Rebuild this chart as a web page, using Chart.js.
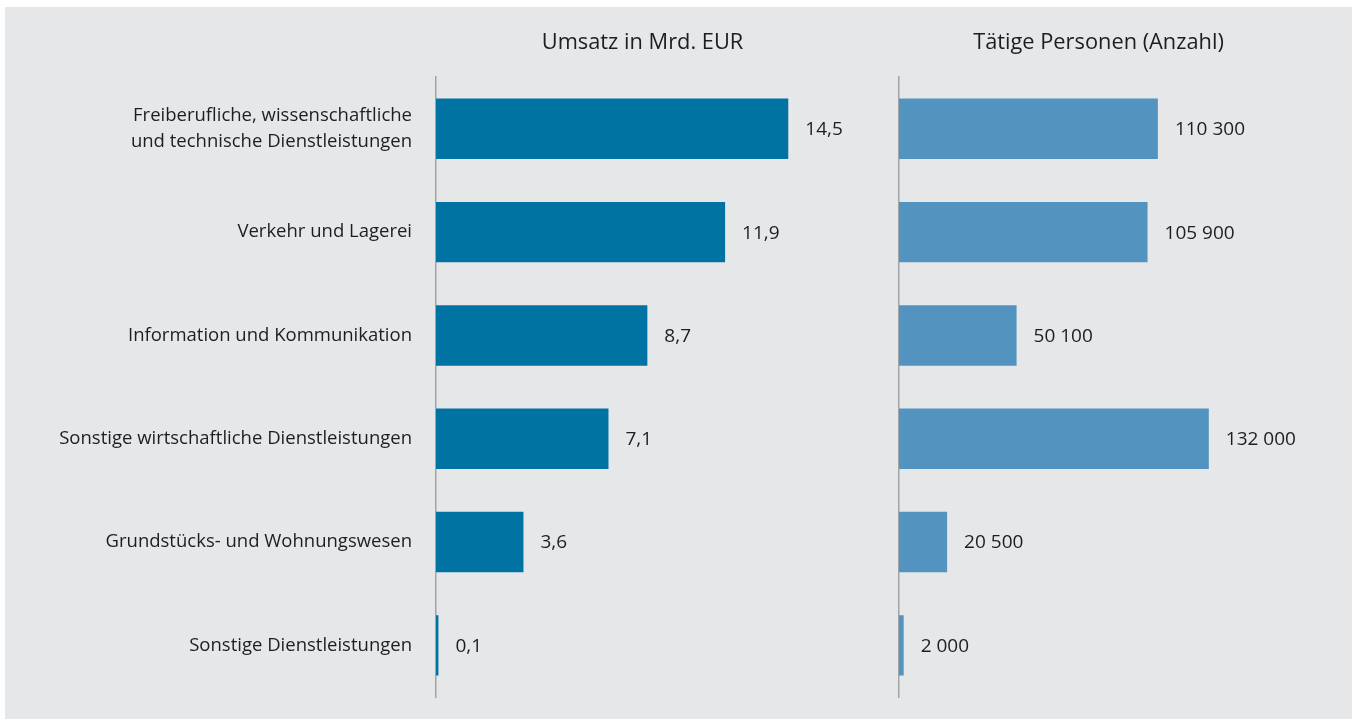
<!DOCTYPE html>
<html lang="de">
<head>
<meta charset="utf-8">
<title>Umsatz und tätige Personen</title>
<script src="https://cdn.jsdelivr.net/npm/chart.js@4/dist/chart.umd.min.js"></script>
<style>
  body { margin: 0; background: #fff; }
  #panel { position: absolute; left: 5px; top: 7px; width: 1347px; height: 712px; background: #e6e7e9; }
  .box { position: absolute; top: 7px; height: 712px; }
  #box-umsatz { left: 5px; width: 844px; }
  #box-personen { left: 880px; width: 418px; }
</style>
</head>
<body>
<div id="panel"></div>
<div class="box" id="box-umsatz"><canvas id="umsatz"></canvas></div>
<div class="box" id="box-personen"><canvas id="personen"></canvas></div>
<script>
const categories = [
  ['Freiberufliche, wissenschaftliche', 'und technische Dienstleistungen'],
  'Verkehr und Lagerei',
  'Information und Kommunikation',
  'Sonstige wirtschaftliche Dienstleistungen',
  'Grundstücks- und Wohnungswesen',
  'Sonstige Dienstleistungen'
]
const umsatz = [14.5, 11.9, 8.7, 7.1, 3.6, 0.1]
const personen = [110300, 105900, 50100, 132000, 20500, 2000]

const FONT = '"Open Sans", "Noto Sans", sans-serif'
const TEXT = '#1e1e1e'

Chart.defaults.font.family = FONT
Chart.defaults.font.size = 18.5
Chart.defaults.color = TEXT

const fmtDecimal = (v) => String(v).replace('.', ',')
const fmtThousands = (v) => String(v).replace(/\B(?=(\d{3})+(?!\d))/g, ' ')

// draws the value to the right of each bar
function valueLabels (fmt) {
  return {
    id: 'valueLabels',
    afterDatasetsDraw (chart) {
      const { ctx } = chart
      const values = chart.data.datasets[0].data
      ctx.save()
      ctx.font = '19px ' + FONT
      ctx.fillStyle = TEXT
      ctx.textBaseline = 'middle'
      chart.getDatasetMeta(0).data.forEach((bar, i) => {
        ctx.fillText(fmt(values[i]), bar.x + 17, bar.y + 1)
      })
      ctx.restore()
    }
  }
}

function makeChart (id, title, values, color, max, fmt, axisWidth, showLabels) {
  return new Chart(document.getElementById(id), {
    type: 'bar',
    data: {
      labels: categories,
      datasets: [{
        data: values,
        backgroundColor: color,
        categoryPercentage: 1,
        barPercentage: 0.585
      }]
    },
    options: {
      indexAxis: 'y',
      responsive: true,
      maintainAspectRatio: false,
      animation: false,
      layout: { padding: { left: 0, right: 0, top: 0, bottom: 22 } },
      scales: {
        x: { display: false, min: 0, max: max },
        y: {
          grid: { display: false, drawTicks: false },
          border: { display: true, color: '#a3a4a6', width: 1.5 },
          ticks: {
            display: showLabels,
            padding: 24,
            color: TEXT,
            font: { size: 18.5, lineHeight: 1.4 }
          },
          afterFit: (scale) => {
            scale.width = axisWidth
            scale.paddingTop = 0
            scale.paddingBottom = 0
          }
        }
      },
      plugins: {
        legend: { display: false },
        tooltip: { enabled: false },
        title: {
          display: true,
          text: title,
          fullSize: false,
          color: TEXT,
          font: { size: 21.8, weight: 'normal' },
          padding: { top: 23, bottom: 21 }
        }
      }
    },
    plugins: [valueLabels(fmt)]
  })
}

makeChart('umsatz', 'Umsatz in Mrd. EUR', umsatz, '#0073a3', 17, fmtDecimal, 431, true)
makeChart('personen', 'Tätige Personen (Anzahl)', personen, '#5294bf', 170000, fmtThousands, 19, false)
</script>
</body>
</html>
